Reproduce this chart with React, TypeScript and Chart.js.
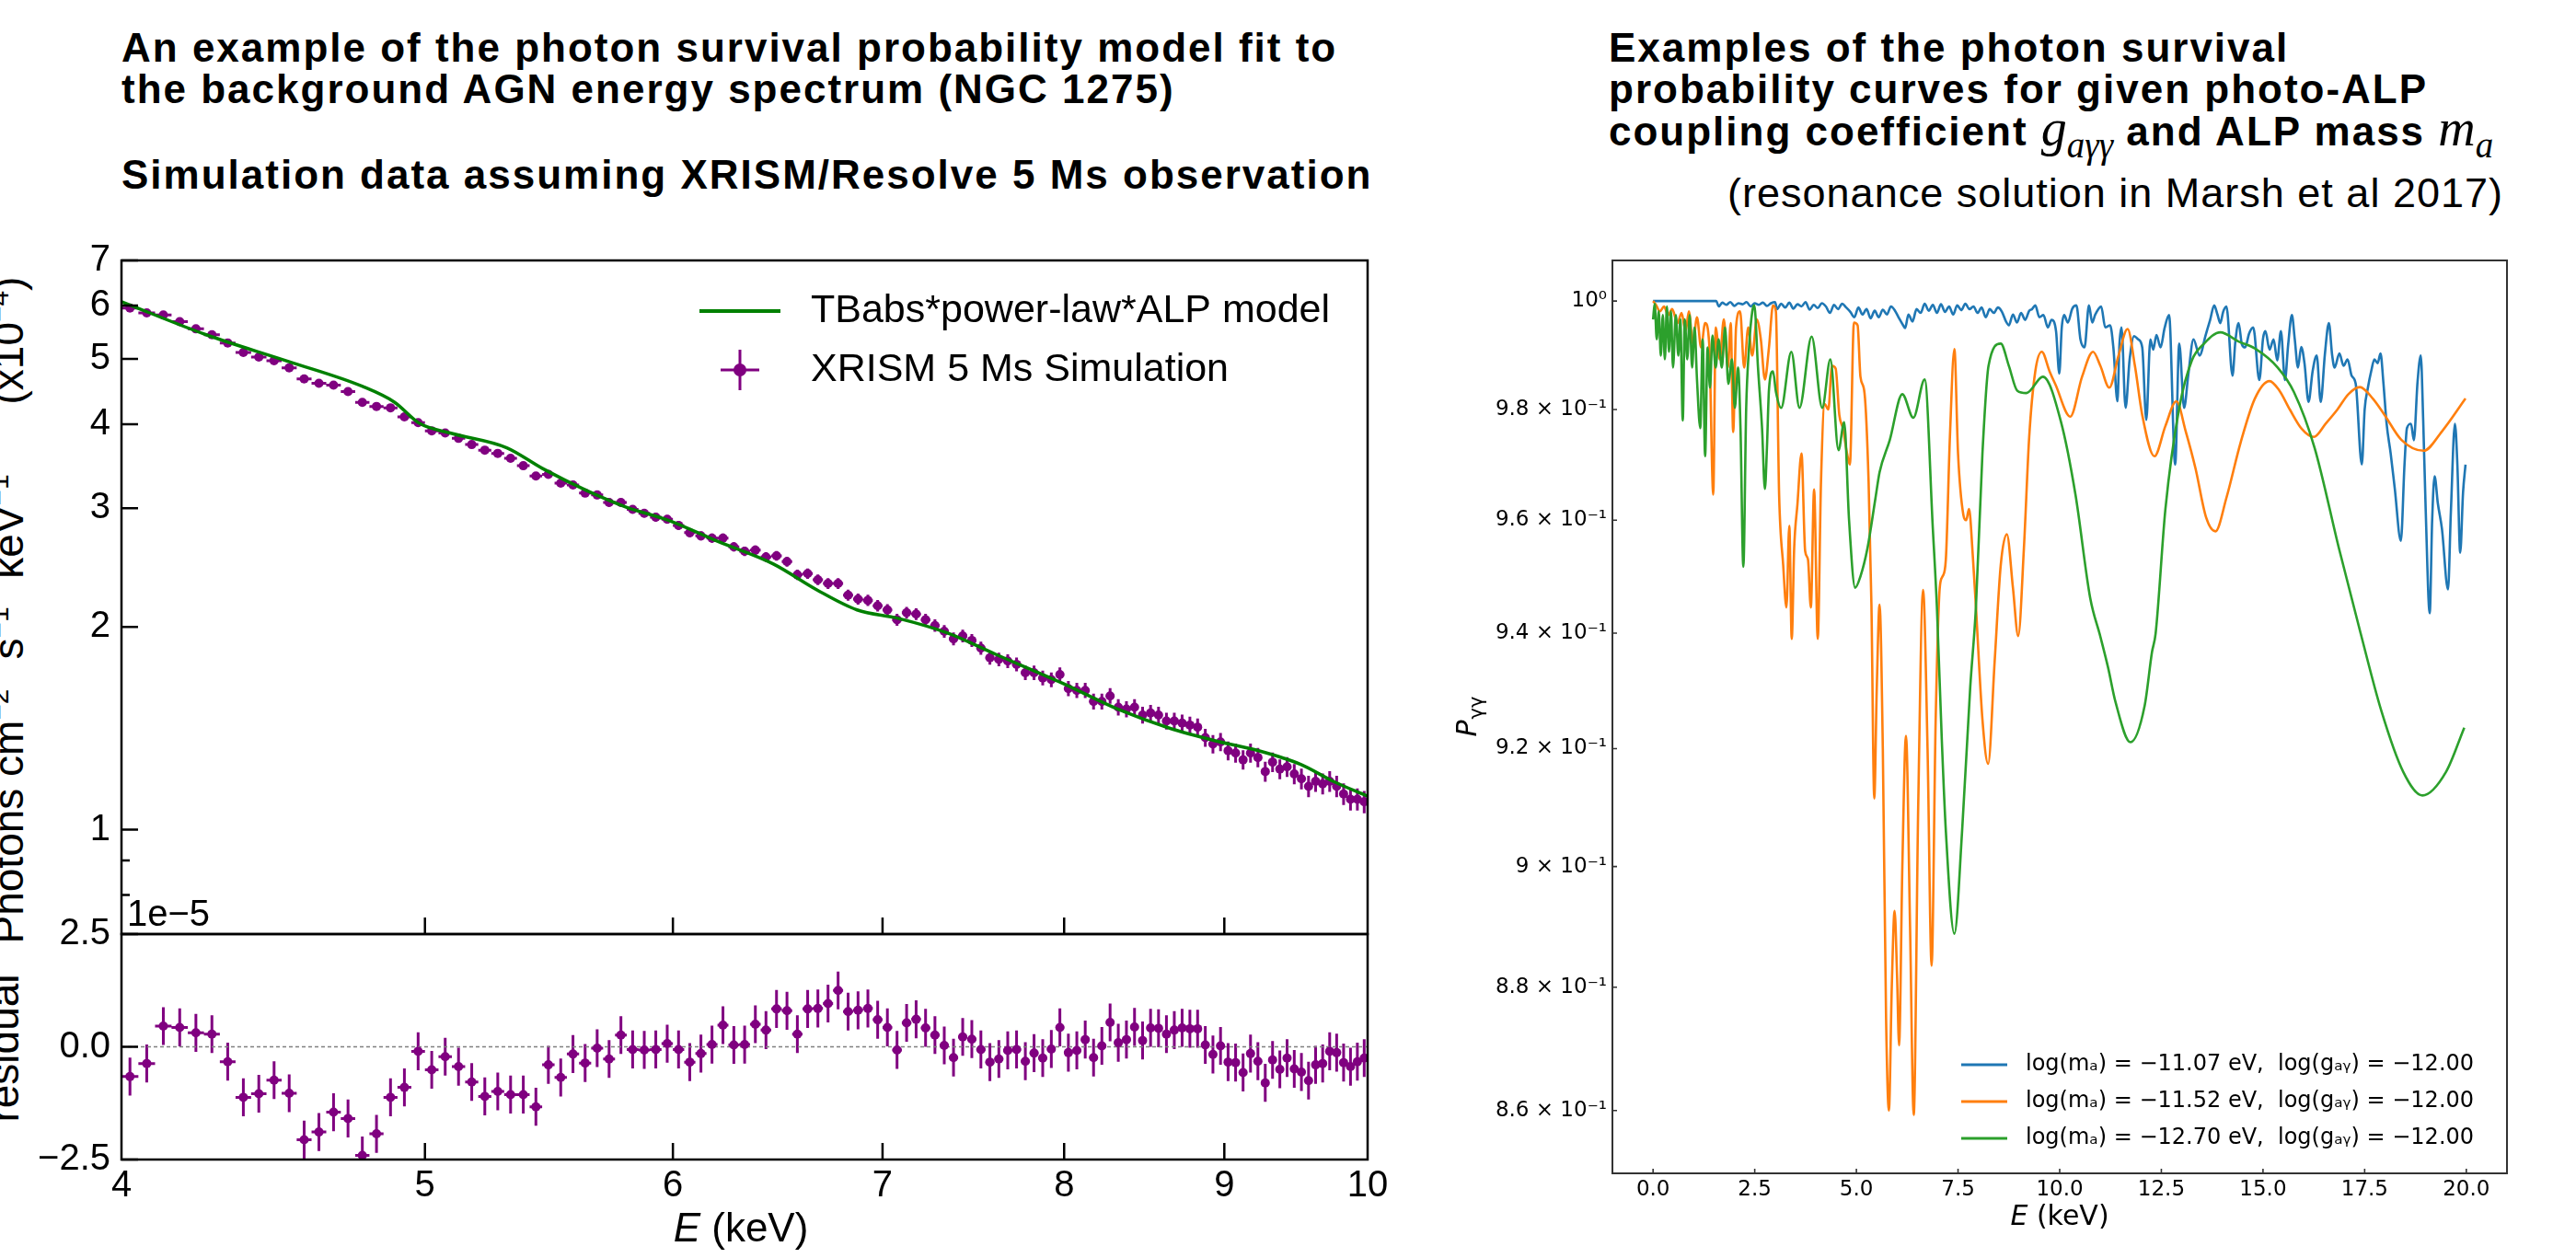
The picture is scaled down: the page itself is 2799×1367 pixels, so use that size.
import React, { useEffect, useRef } from "react";
import { Chart, registerables } from "chart.js";

Chart.register(...registerables);

// ====================== LEFT PANEL DATA ======================
// Bin centres (keV) of the simulated XRISM spectrum
const binCentres = [
  4.025, 4.075, 4.125, 4.175, 4.225, 4.275, 4.325, 4.375, 4.425, 4.475,
  4.525, 4.575, 4.625, 4.675, 4.725, 4.775, 4.825, 4.875, 4.925, 4.975,
  5.025, 5.075, 5.125, 5.175, 5.225, 5.275, 5.325, 5.375, 5.425, 5.475,
  5.525, 5.575, 5.625, 5.675, 5.725, 5.775, 5.825, 5.875, 5.925, 5.975,
  6.025, 6.075, 6.125, 6.175, 6.225, 6.275, 6.325, 6.375, 6.425, 6.475,
  6.525, 6.575, 6.625, 6.675, 6.725, 6.775, 6.825, 6.875, 6.925, 6.975,
  7.025, 7.075, 7.125, 7.175, 7.225, 7.275, 7.325, 7.375, 7.425, 7.475,
  7.525, 7.575, 7.625, 7.675, 7.725, 7.775, 7.825, 7.875, 7.925, 7.975,
  8.025, 8.075, 8.125, 8.175, 8.225, 8.275, 8.325, 8.375, 8.425, 8.475,
  8.525, 8.575, 8.625, 8.675, 8.725, 8.775, 8.825, 8.875, 8.925, 8.975,
  9.025, 9.075, 9.125, 9.175, 9.225, 9.275, 9.325, 9.375, 9.425, 9.475,
  9.525, 9.575, 9.625, 9.675, 9.725, 9.775, 9.825, 9.875, 9.925, 9.975,
];
const binHalfWidth = 0.025;

// Observed flux (x 1e-4 photons cm^-2 s^-1 keV^-1)
const observedFlux = [
  5.95, 5.85, 5.81, 5.68, 5.54, 5.43, 5.28, 5.11, 5.03, 4.97,
  4.85, 4.67, 4.60, 4.57, 4.47, 4.31, 4.25, 4.23, 4.10, 4.02,
  3.91, 3.88, 3.81, 3.73, 3.66, 3.62, 3.56, 3.47, 3.35, 3.37,
  3.27, 3.25, 3.16, 3.14, 3.06, 3.06, 2.99, 2.95, 2.91, 2.89,
  2.83, 2.76, 2.73, 2.71, 2.71, 2.63, 2.59, 2.60, 2.54, 2.55,
  2.50, 2.39, 2.40, 2.35, 2.32, 2.32, 2.23, 2.20, 2.19, 2.15,
  2.12, 2.05, 2.10, 2.09, 2.05, 2.01, 1.97, 1.92, 1.94, 1.91,
  1.86, 1.80, 1.79, 1.78, 1.76, 1.71, 1.71, 1.68, 1.67, 1.70,
  1.62, 1.61, 1.61, 1.55, 1.55, 1.58, 1.52, 1.51, 1.52, 1.48,
  1.49, 1.48, 1.45, 1.45, 1.44, 1.43, 1.42, 1.37, 1.34, 1.35,
  1.31, 1.30, 1.27, 1.30, 1.28, 1.22, 1.26, 1.23, 1.24, 1.21,
  1.19, 1.16, 1.18, 1.17, 1.18, 1.16, 1.13, 1.11, 1.11, 1.10,
];
const fluxError = 0.042;

// Residuals (x 1e-5)
const residuals = [
  -0.66, -0.37, 0.46, 0.43, 0.31, 0.28, -0.33, -1.12, -1.04, -0.74,
  -1.03, -2.06, -1.89, -1.45, -1.59, -2.41, -1.93, -1.12, -0.9, -0.1,
  -0.51, -0.22, -0.44, -0.78, -1.1, -0.99, -1.06, -1.06, -1.33, -0.4,
  -0.68, -0.16, -0.36, -0.03, -0.27, 0.26, -0.06, -0.07, -0.06, 0.07,
  -0.06, -0.34, -0.15, 0.05, 0.48, 0.04, 0.05, 0.5, 0.37, 0.84,
  0.8, 0.28, 0.84, 0.85, 0.96, 1.25, 0.78, 0.81, 0.85, 0.6,
  0.43, -0.07, 0.53, 0.61, 0.42, 0.26, 0.03, -0.24, 0.22, 0.17,
  -0.06, -0.34, -0.27, -0.08, -0.06, -0.32, -0.14, -0.25, -0.05, 0.43,
  -0.13, -0.08, 0.16, -0.24, 0.02, 0.54, 0.09, 0.16, 0.44, 0.14,
  0.42, 0.41, 0.28, 0.37, 0.42, 0.4, 0.4, 0.04, -0.17, 0.02,
  -0.34, -0.35, -0.57, -0.15, -0.32, -0.8, -0.29, -0.5, -0.25, -0.49,
  -0.56, -0.75, -0.4, -0.37, -0.1, -0.13, -0.35, -0.44, -0.33, -0.25,
];
const residualError = 0.42;

// TBabs*power-law*ALP model curve
const modelEnergy = [4.0, 4.257, 4.523, 4.776, 4.89, 4.98, 5.1, 5.31, 5.45, 5.63, 5.8, 5.98, 6.2, 6.46, 6.67, 6.87, 7.08, 7.34, 7.61, 7.99, 8.33, 8.64, 8.96, 9.23, 9.52, 9.75, 10.0];
const modelFlux = [6.08, 5.43, 4.955, 4.55, 4.31, 4.01, 3.875, 3.69, 3.44, 3.19, 3.01, 2.88, 2.68, 2.48, 2.27, 2.12, 2.06, 1.96, 1.82, 1.65, 1.507, 1.416, 1.352, 1.31, 1.25, 1.18, 1.121];

const fluxTickValues = [0.8, 0.9, 1, 2, 3, 4, 5, 6, 7];
const fluxTickLabels = ["", "", "1", "2", "3", "4", "5", "6", "7"];
const energyTickValues = [4, 5, 6, 7, 8, 9, 10];
const energyTickLabels = ["4", "5", "6", "7", "8", "9", "10"];
const residualTickValues = [-2.5, 0, 2.5];
const residualTickLabels = ["\u22122.5", "0.0", "2.5"];
const leftLegendLabels = ["TBabs*power-law*ALP model", "XRISM 5 Ms Simulation"];

// ====================== RIGHT PANEL DATA ======================
const blueCurve: [number, number][] = [
  [0.0, 1.0], [1.55, 1.0], [1.62, 0.999], [1.7, 0.9997], [1.8, 0.9993], [1.9, 0.9998], [2.0, 0.9991], [2.1, 0.9996], [2.2, 0.9994], [2.3, 0.9998],
  [2.4, 0.999], [2.5, 0.9996], [2.6, 0.9993], [2.7, 0.9997], [2.8, 0.9991], [2.9, 0.9996], [3.0, 0.9998], [3.05, 0.9985], [3.15, 0.9995], [3.25, 0.9988],
  [3.35, 0.9997], [3.45, 0.9986], [3.55, 0.9994], [3.65, 0.999], [3.75, 0.9998], [3.85, 0.9984], [3.95, 0.9993], [4.05, 0.9987], [4.15, 0.9996], [4.25, 0.999],
  [4.35, 0.9978], [4.45, 0.9993], [4.55, 0.9985], [4.65, 0.9995], [4.75, 0.9988], [4.85, 0.998], [4.95, 0.997], [5.05, 0.9988], [5.15, 0.9975], [5.25, 0.9985],
  [5.35, 0.9968], [5.45, 0.9982], [5.55, 0.997], [5.65, 0.9984], [5.75, 0.9975], [5.85, 0.999], [5.95, 0.9982], [6.05, 0.9968], [6.15, 0.9955], [6.2, 0.995],
  [6.28, 0.9975], [6.38, 0.9962], [6.48, 0.9985], [6.58, 0.9978], [6.68, 0.9995], [6.78, 0.9982], [6.88, 0.9993], [6.98, 0.9978], [7.08, 0.9994], [7.18, 0.998],
  [7.28, 0.999], [7.38, 0.9975], [7.48, 0.9992], [7.58, 0.9983], [7.68, 0.9995], [7.78, 0.9985], [7.88, 0.999], [7.98, 0.9978], [8.08, 0.9988], [8.18, 0.997],
  [8.28, 0.9985], [8.38, 0.9978], [8.48, 0.9988], [8.58, 0.998], [8.68, 0.9962], [8.75, 0.9955], [8.85, 0.9975], [8.95, 0.996], [9.05, 0.9978], [9.15, 0.9965],
  [9.25, 0.9982], [9.32, 0.9985], [9.4, 0.9992], [9.5, 0.997], [9.6, 0.9974], [9.71, 0.9951], [9.8, 0.9965], [9.91, 0.9944], [9.99, 0.9866], [10.05, 0.995],
  [10.11, 0.9974], [10.2, 0.996], [10.31, 0.9986], [10.41, 0.9992], [10.51, 0.9929], [10.61, 0.9914], [10.72, 0.9992], [10.8, 0.996], [10.87, 0.9974], [10.95, 0.9985],
  [11.02, 0.999], [11.12, 0.9951], [11.24, 0.9955], [11.32, 0.9914], [11.42, 0.9815], [11.47, 0.992], [11.52, 0.9951], [11.62, 0.9803], [11.72, 0.9892], [11.83, 0.9935],
  [11.93, 0.9929], [12.03, 0.9914], [12.13, 0.9781], [12.23, 0.9929], [12.3, 0.991], [12.38, 0.9937], [12.48, 0.9914], [12.58, 0.995], [12.69, 0.9974], [12.84, 0.97],
  [12.94, 0.9921], [13.06, 0.9803], [13.16, 0.9862], [13.29, 0.9929], [13.44, 0.9899], [13.59, 0.9937], [13.7, 0.9965], [13.8, 0.9992], [13.88, 0.9975], [13.95, 0.9959],
  [14.02, 0.998], [14.1, 0.999], [14.25, 0.9862], [14.32, 0.9925], [14.4, 0.9959], [14.48, 0.992], [14.56, 0.9914], [14.66, 0.994], [14.76, 0.9951], [14.91, 0.9854],
  [15.0, 0.993], [15.06, 0.9944], [15.16, 0.991], [15.26, 0.9929], [15.35, 0.989], [15.44, 0.9944], [15.54, 0.9854], [15.62, 0.992], [15.71, 0.9974], [15.78, 0.993],
  [15.86, 0.9877], [15.94, 0.9915], [16.02, 0.9885], [16.12, 0.9814], [16.22, 0.987], [16.32, 0.9899], [16.42, 0.9814], [16.52, 0.99], [16.62, 0.9959], [16.7, 0.99],
  [16.76, 0.9877], [16.88, 0.9903], [16.98, 0.988], [17.08, 0.9892], [17.18, 0.9862], [17.28, 0.9847], [17.43, 0.97], [17.5, 0.98], [17.58, 0.984], [17.66, 0.987],
  [17.74, 0.9892], [17.82, 0.9885], [17.89, 0.9903], [17.96, 0.985], [18.04, 0.9774], [18.14, 0.972], [18.24, 0.9657], [18.39, 0.9563], [18.48, 0.97], [18.54, 0.9766],
  [18.64, 0.9774], [18.71, 0.9744], [18.8, 0.985], [18.88, 0.9899], [18.94, 0.978], [19.0, 0.9621], [19.1, 0.9435], [19.16, 0.96], [19.22, 0.9679], [19.3, 0.963],
  [19.4, 0.9585], [19.55, 0.9477], [19.62, 0.9614], [19.72, 0.9774], [19.78, 0.97], [19.85, 0.9542], [19.92, 0.965], [19.98, 0.97],
];

const orangeCurve: [number, number][] = [
  [0.0, 1.0], [0.07, 0.9993], [0.17, 0.9981], [0.27, 0.999], [0.37, 0.9974], [0.47, 0.9985], [0.6, 0.9959], [0.7, 0.9978], [0.8, 0.9944], [0.88, 0.9981],
  [0.98, 0.9921], [1.08, 0.997], [1.18, 0.9914], [1.28, 0.9959], [1.38, 0.9921], [1.48, 0.9646], [1.54, 0.9951], [1.64, 0.9892], [1.74, 0.9966], [1.84, 0.9877],
  [1.91, 0.9959], [1.97, 0.9759], [2.04, 0.9951], [2.14, 0.9981], [2.24, 0.9877], [2.34, 0.9951], [2.44, 0.9899], [2.55, 0.9966], [2.65, 0.9929], [2.75, 0.9855],
  [2.85, 0.9914], [2.95, 0.9992], [3.02, 0.9981], [3.1, 0.9645], [3.2, 0.952], [3.28, 0.9445], [3.35, 0.959], [3.41, 0.939], [3.47, 0.955], [3.55, 0.9628],
  [3.65, 0.972], [3.74, 0.9545], [3.81, 0.953], [3.88, 0.9445], [3.96, 0.9655], [4.05, 0.939], [4.13, 0.967], [4.22, 0.981], [4.31, 0.98], [4.4, 0.988],
  [4.49, 0.9875], [4.58, 0.979], [4.67, 0.9765], [4.77, 0.972], [4.84, 0.97], [4.94, 0.996], [5.03, 0.9955], [5.1, 0.986], [5.2, 0.983], [5.3, 0.967],
  [5.37, 0.945], [5.44, 0.9115], [5.5, 0.93], [5.57, 0.945], [5.65, 0.92], [5.73, 0.875], [5.8, 0.86], [5.87, 0.88], [5.94, 0.8926], [6.0, 0.882],
  [6.05, 0.8705], [6.13, 0.9], [6.22, 0.9222], [6.32, 0.89], [6.41, 0.8593], [6.52, 0.91], [6.64, 0.9476], [6.75, 0.92], [6.85, 0.8835], [6.95, 0.925],
  [7.05, 0.948], [7.12, 0.95], [7.2, 0.953], [7.3, 0.975], [7.41, 0.9911], [7.5, 0.972], [7.63, 0.961], [7.7, 0.96], [7.77, 0.962], [7.86, 0.954],
  [7.94, 0.9446], [8.1, 0.925], [8.24, 0.9174], [8.4, 0.935], [8.55, 0.952], [8.7, 0.9575], [8.85, 0.948], [8.98, 0.9395], [9.12, 0.955], [9.25, 0.975],
  [9.4, 0.987], [9.56, 0.9906], [9.75, 0.987], [9.9, 0.9845], [10.26, 0.9787], [10.55, 0.986], [10.82, 0.9906], [11.0, 0.988], [11.22, 0.984], [11.45, 0.99],
  [11.67, 0.9948], [11.85, 0.988], [12.03, 0.979], [12.33, 0.9715], [12.6, 0.977], [12.87, 0.9815], [13.1, 0.976], [13.34, 0.9693], [13.6, 0.9605], [13.83, 0.958],
  [14.1, 0.964], [14.45, 0.974], [14.8, 0.982], [15.16, 0.9852], [15.4, 0.9835], [15.66, 0.98], [15.95, 0.9765], [16.25, 0.975], [16.55, 0.9775], [16.83, 0.98],
  [17.1, 0.9828], [17.38, 0.9841], [17.7, 0.982], [17.99, 0.979], [18.4, 0.9745], [18.95, 0.9725], [19.4, 0.976], [19.98, 0.982],
];

const greenCurve: [number, number][] = [
  [0.0, 0.9966], [0.04, 0.9995], [0.09, 0.9929], [0.14, 0.9981], [0.19, 0.9899], [0.24, 0.9974], [0.29, 0.9892], [0.34, 0.999], [0.39, 0.9906], [0.44, 0.9981],
  [0.49, 0.9877], [0.56, 0.9974], [0.62, 0.9899], [0.67, 0.9966], [0.73, 0.978], [0.78, 0.9966], [0.84, 0.9892], [0.9, 0.9974], [0.96, 0.9877], [1.02, 0.9951],
  [1.08, 0.9855], [1.16, 0.9766], [1.22, 0.9929], [1.28, 0.9715], [1.34, 0.9914], [1.4, 0.984], [1.46, 0.9936], [1.54, 0.9877], [1.61, 0.9929], [1.69, 0.9877],
  [1.77, 0.9951], [1.85, 0.9847], [1.94, 0.9892], [2.01, 0.9803], [2.09, 0.9877], [2.15, 0.9766], [2.22, 0.9517], [2.29, 0.9803], [2.36, 0.9914], [2.44, 0.9981],
  [2.49, 0.9992], [2.58, 0.9877], [2.68, 0.9766], [2.75, 0.9656], [2.8, 0.973], [2.85, 0.9836], [2.95, 0.987], [3.02, 0.9833], [3.15, 0.9803], [3.4, 0.9906],
  [3.6, 0.9803], [3.9, 0.9934], [4.16, 0.9803], [4.36, 0.9892], [4.56, 0.9726], [4.7, 0.9777], [4.82, 0.96], [4.97, 0.948], [5.1, 0.95], [5.27, 0.9549],
  [5.47, 0.964], [5.57, 0.9686], [5.82, 0.9744], [6.13, 0.9828], [6.4, 0.9785], [6.68, 0.9855], [6.88, 0.9585], [6.98, 0.9446], [7.1, 0.9216], [7.2, 0.906],
  [7.41, 0.8888], [7.6, 0.906], [7.8, 0.9306], [7.94, 0.9446], [8.1, 0.972], [8.25, 0.988], [8.55, 0.9921], [8.75, 0.988], [8.96, 0.9834], [9.18, 0.983],
  [9.59, 0.986], [10.03, 0.9778], [10.39, 0.9645], [10.75, 0.9462], [11.0, 0.9394], [11.19, 0.934], [11.37, 0.9281], [11.74, 0.9211], [12.09, 0.9274], [12.27, 0.9367],
  [12.36, 0.94], [12.6, 0.962], [12.94, 0.9803], [13.25, 0.989], [13.55, 0.9921], [13.95, 0.9942], [14.4, 0.9925], [14.8, 0.9912], [15.36, 0.9877], [15.76, 0.9832],
  [16.27, 0.973], [16.87, 0.9549], [17.4, 0.94], [17.91, 0.9265], [18.45, 0.916], [18.92, 0.912], [19.5, 0.916], [19.95, 0.9236],
];

const survivalTickValues = [0.86, 0.88, 0.9, 0.92, 0.94, 0.96, 0.98, 1.0];
const survivalTickLabels = [
  "8.6 \u00d7 10\u207b\u00b9", "8.8 \u00d7 10\u207b\u00b9", "9 \u00d7 10\u207b\u00b9", "9.2 \u00d7 10\u207b\u00b9",
  "9.4 \u00d7 10\u207b\u00b9", "9.6 \u00d7 10\u207b\u00b9", "9.8 \u00d7 10\u207b\u00b9", "10\u2070",
];
const rightEnergyTicks = [0, 2.5, 5, 7.5, 10, 12.5, 15, 17.5, 20];
const rightEnergyLabels = ["0.0", "2.5", "5.0", "7.5", "10.0", "12.5", "15.0", "17.5", "20.0"];
const alpLogMass = ["\u221211.07", "\u221211.52", "\u221212.70"];
const alpLogCoupling = ["\u221212.00", "\u221212.00", "\u221212.00"];
const curveColors = ["#1f77b4", "#ff7f0e", "#2ca02c"];

const SANS = "Liberation Sans";
const DJV = "DejaVu Sans";
const PURPLE = "#800080";
const GREEN = "#008000";

// ====================== helpers ======================
function strokeFrame(chart: any, color: string, width: number) {
  const { ctx, chartArea: a } = chart;
  ctx.save();
  ctx.strokeStyle = color;
  ctx.lineWidth = width;
  ctx.strokeRect(a.left, a.top, a.right - a.left, a.bottom - a.top);
  ctx.restore();
}

function inwardTicks(chart: any, axis: string, side: string, values: number[], lens: number[] | number, color: string, width: number) {
  const { ctx, chartArea: a, scales } = chart;
  const s = scales[axis];
  ctx.save();
  ctx.strokeStyle = color;
  ctx.lineWidth = width;
  ctx.beginPath();
  values.forEach((v, i) => {
    const p = s.getPixelForValue(v);
    const L = Array.isArray(lens) ? lens[i] : lens;
    if (side === "left") { ctx.moveTo(a.left, p); ctx.lineTo(a.left + L, p); }
    if (side === "bottom") { ctx.moveTo(p, a.bottom); ctx.lineTo(p, a.bottom - L); }
  });
  ctx.stroke();
  ctx.restore();
}

function drawEnergyTitle(ctx: CanvasRenderingContext2D, cx: number, cy: number, size: number, family: string) {
  ctx.save();
  ctx.fillStyle = "#000";
  ctx.textBaseline = "middle";
  ctx.textAlign = "left";
  const fi = `italic ${size}px "${family}"`;
  const fr = `${size}px "${family}"`;
  ctx.font = fi;
  const w1 = ctx.measureText("E").width;
  ctx.font = fr;
  const w2 = ctx.measureText(" (keV)").width;
  const x0 = cx - (w1 + w2) / 2;
  ctx.font = fi;
  ctx.fillText("E", x0, cy);
  ctx.font = fr;
  ctx.fillText(" (keV)", x0 + w1, cy);
  ctx.restore();
}

const errorBarsPlugin = {
  id: "errorBars",
  beforeDatasetsDraw(chart: any, _args: any, opts: any) {
    if (!opts || !opts.xs) return;
    const { ctx, chartArea: a, scales } = chart;
    const sx = scales.x, sy = scales.y;
    ctx.save();
    ctx.beginPath();
    ctx.rect(a.left, a.top, a.right - a.left, a.bottom - a.top);
    ctx.clip();
    ctx.strokeStyle = opts.color;
    ctx.lineWidth = opts.lineWidth;
    ctx.beginPath();
    for (let i = 0; i < opts.xs.length; i++) {
      const x = sx.getPixelForValue(opts.xs[i]);
      const y = sy.getPixelForValue(opts.ys[i]);
      const x0 = sx.getPixelForValue(opts.xs[i] - opts.xerr);
      const x1 = sx.getPixelForValue(opts.xs[i] + opts.xerr);
      const y0 = sy.getPixelForValue(opts.ys[i] - opts.yerr);
      const y1 = sy.getPixelForValue(opts.ys[i] + opts.yerr);
      ctx.moveTo(x0, y); ctx.lineTo(x1, y);
      ctx.moveTo(x, y0); ctx.lineTo(x, y1);
    }
    ctx.stroke();
    ctx.restore();
  },
};

function fixWidth(w: number) {
  return (s: any) => { s.width = w; s.paddingTop = 0; s.paddingBottom = 0; s.paddingLeft = 0; s.paddingRight = 0; };
}
function fixHeight(h: number) {
  return (s: any) => { s.height = h; s.paddingTop = 0; s.paddingBottom = 0; s.paddingLeft = 0; s.paddingRight = 0; };
}

// ====================== component ======================
export default function App() {
  const specRef = useRef<HTMLCanvasElement>(null);
  const resRef = useRef<HTMLCanvasElement>(null);
  const probRef = useRef<HTMLCanvasElement>(null);

  useEffect(() => {
    const charts: Chart[] = [];

    // ---------- spectrum (top-left) ----------
    const specDecor = {
      id: "specDecor",
      afterDraw(chart: any) {
        const { ctx, chartArea: a } = chart;
        inwardTicks(chart, "y", "left", fluxTickValues, fluxTickLabels.map((l) => (l ? 18 : 9)), "#000", 2.5);
        inwardTicks(chart, "x", "bottom", energyTickValues.slice(1, -1), 18, "#000", 2.5);
        strokeFrame(chart, "#000", 2.5);
        ctx.save();
        // legend
        const lx = a.left + 628;
        const ly1 = a.top + 55;
        const ly2 = a.top + 119;
        ctx.strokeStyle = GREEN;
        ctx.lineWidth = 4;
        ctx.beginPath(); ctx.moveTo(lx, ly1); ctx.lineTo(lx + 88, ly1); ctx.stroke();
        ctx.strokeStyle = PURPLE;
        ctx.lineWidth = 3;
        ctx.beginPath();
        ctx.moveTo(lx + 23, ly2); ctx.lineTo(lx + 65, ly2);
        ctx.moveTo(lx + 44, ly2 - 22); ctx.lineTo(lx + 44, ly2 + 22);
        ctx.stroke();
        ctx.fillStyle = PURPLE;
        ctx.beginPath(); ctx.arc(lx + 44, ly2, 7, 0, Math.PI * 2); ctx.fill();
        ctx.fillStyle = "#000";
        ctx.font = `43px "${SANS}"`;
        ctx.textBaseline = "middle";
        ctx.textAlign = "left";
        ctx.fillText(leftLegendLabels[0], a.left + 749, ly1);
        ctx.fillText(leftLegendLabels[1], a.left + 749, ly2);
        // offset text
        ctx.font = `40px "${SANS}"`;
        ctx.fillText("1e\u22125", a.left + 6, a.bottom - 20);
        ctx.restore();
      },
    };

    if (specRef.current) {
      charts.push(
        new Chart(specRef.current, {
          type: "line",
          data: {
            datasets: [
              {
                label: leftLegendLabels[0],
                data: modelEnergy.map((e, i) => ({ x: e, y: modelFlux[i] })),
                borderColor: GREEN,
                borderWidth: 3.5,
                pointRadius: 0,
                cubicInterpolationMode: "monotone",
                order: 1,
              } as any,
              {
                label: leftLegendLabels[1],
                data: binCentres.map((e, i) => ({ x: e, y: observedFlux[i] })),
                showLine: false,
                pointRadius: 5,
                pointBackgroundColor: PURPLE,
                pointBorderWidth: 0,
                borderColor: PURPLE,
                order: 2,
              } as any,
            ],
          },
          options: {
            responsive: false,
            animation: false,
            devicePixelRatio: 1,
            events: [],
            layout: { padding: { left: 0, top: 33, right: 34, bottom: 5 } },
            plugins: {
              legend: { display: false },
              tooltip: { enabled: false },
              errorBars: { xs: binCentres, ys: observedFlux, xerr: binHalfWidth, yerr: fluxError, color: PURPLE, lineWidth: 3 },
            } as any,
            scales: {
              x: { type: "logarithmic", min: 4, max: 10, display: false },
              y: {
                type: "logarithmic",
                min: 0.7036,
                max: 7,
                grid: { display: false, drawTicks: false },
                border: { display: false },
                afterBuildTicks: (s: any) => { s.ticks = fluxTickValues.map((v) => ({ value: v })); },
                afterFit: fixWidth(132),
                ticks: {
                  autoSkip: false,
                  padding: 12,
                  color: "#000",
                  font: { family: SANS, size: 40 },
                  callback: (_v: any, i: number) => fluxTickLabels[i],
                },
              } as any,
            },
          },
          plugins: [errorBarsPlugin, specDecor],
        })
      );
    }

    // ---------- residual (bottom-left) ----------
    const resDecor = {
      id: "resDecor",
      beforeDatasetsDraw(chart: any) {
        const { ctx, chartArea: a, scales } = chart;
        const y0 = scales.y.getPixelForValue(0);
        ctx.save();
        ctx.strokeStyle = "#808080";
        ctx.lineWidth = 1.5;
        ctx.setLineDash([4, 3]);
        ctx.beginPath(); ctx.moveTo(a.left, y0); ctx.lineTo(a.right, y0); ctx.stroke();
        ctx.restore();
      },
      afterDraw(chart: any) {
        const { ctx, chartArea: a } = chart;
        inwardTicks(chart, "y", "left", residualTickValues, 18, "#000", 2.5);
        inwardTicks(chart, "x", "bottom", energyTickValues.slice(1, -1), 18, "#000", 2.5);
        strokeFrame(chart, "#000", 2.5);
        drawEnergyTitle(ctx, (a.left + a.right) / 2 - 4, a.bottom + 77, 44, SANS);
      },
    };

    if (resRef.current) {
      charts.push(
        new Chart(resRef.current, {
          type: "line",
          data: {
            datasets: [
              {
                label: "residual",
                data: binCentres.map((e, i) => ({ x: e, y: residuals[i] })),
                showLine: false,
                pointRadius: 5,
                pointBackgroundColor: PURPLE,
                pointBorderWidth: 0,
                borderColor: PURPLE,
              } as any,
            ],
          },
          options: {
            responsive: false,
            animation: false,
            devicePixelRatio: 1,
            events: [],
            layout: { padding: { left: 0, top: 55, right: 34, bottom: 0 } },
            plugins: {
              legend: { display: false },
              tooltip: { enabled: false },
              errorBars: { xs: binCentres, ys: residuals, xerr: binHalfWidth, yerr: residualError, color: PURPLE, lineWidth: 3 },
            } as any,
            scales: {
              x: {
                type: "logarithmic",
                min: 4,
                max: 10,
                grid: { display: false, drawTicks: false },
                border: { display: false },
                afterBuildTicks: (s: any) => { s.ticks = energyTickValues.map((v) => ({ value: v })); },
                afterFit: fixHeight(107),
                ticks: {
                  autoSkip: false,
                  maxRotation: 0,
                  minRotation: 0,
                  padding: 5,
                  color: "#000",
                  font: { family: SANS, size: 40 },
                  callback: (_v: any, i: number) => energyTickLabels[i],
                },
              } as any,
              y: {
                type: "linear",
                min: -2.5,
                max: 2.5,
                grid: { display: false, drawTicks: false },
                border: { display: false },
                afterBuildTicks: (s: any) => { s.ticks = residualTickValues.map((v) => ({ value: v })); },
                afterFit: fixWidth(132),
                ticks: {
                  autoSkip: false,
                  padding: 12,
                  color: "#000",
                  font: { family: SANS, size: 40 },
                  callback: (_v: any, i: number) => residualTickLabels[i],
                },
              } as any,
            },
          },
          plugins: [errorBarsPlugin, resDecor],
        })
      );
    }

    // ---------- survival probability (right) ----------
    const probDecor = {
      id: "probDecor",
      afterDraw(chart: any) {
        const { ctx, chartArea: a } = chart;
        inwardTicks(chart, "y", "left", survivalTickValues, 5, "#333", 1.6);
        inwardTicks(chart, "x", "bottom", rightEnergyTicks, 5, "#333", 1.6);
        strokeFrame(chart, "#333", 2);
        ctx.save();
        // legend
        const lx = a.left + 379;
        const rows = [a.bottom - 118, a.bottom - 78, a.bottom - 38];
        rows.forEach((ry, i) => {
          ctx.strokeStyle = curveColors[i];
          ctx.lineWidth = 2.8;
          ctx.beginPath(); ctx.moveTo(lx, ry); ctx.lineTo(lx + 50, ry); ctx.stroke();
          ctx.fillStyle = "#000";
          ctx.font = `24px "${DJV}"`;
          ctx.textBaseline = "middle";
          ctx.textAlign = "left";
          ctx.fillText(
            `log(m\u2090) = ${alpLogMass[i]} eV,  log(g\u2090\u1d67) = ${alpLogCoupling[i]}`,
            lx + 70,
            ry
          );
        });
        // y title P_yy
        ctx.translate(a.left - 159, (a.top + a.bottom) / 2);
        ctx.rotate(-Math.PI / 2);
        ctx.fillStyle = "#000";
        ctx.textBaseline = "alphabetic";
        ctx.textAlign = "left";
        ctx.font = `italic 30px "${DJV}"`;
        const wP = ctx.measureText("P").width;
        ctx.font = `21px "${DJV}"`;
        const wS = ctx.measureText("\u03b3\u03b3").width;
        const x0 = -(wP + wS) / 2;
        ctx.font = `italic 30px "${DJV}"`;
        ctx.fillText("P", x0, 11);
        ctx.font = `21px "${DJV}"`;
        ctx.fillText("\u03b3\u03b3", x0 + wP + 1, 18);
        ctx.restore();
        drawEnergyTitle(ctx, (a.left + a.right) / 2, a.bottom + 48, 30, DJV);
      },
    };

    if (probRef.current) {
      const curves = [blueCurve, orangeCurve, greenCurve];
      charts.push(
        new Chart(probRef.current, {
          type: "line",
          data: {
            datasets: curves.map((c, i) => ({
              label: `log(m_a) = ${alpLogMass[i]} eV`,
              data: c.map(([e, p]) => ({ x: e, y: p })),
              borderColor: curveColors[i],
              borderWidth: 2.6,
              pointRadius: 0,
              cubicInterpolationMode: "monotone",
              order: 3 - i,
            })) as any,
          },
          options: {
            responsive: false,
            animation: false,
            devicePixelRatio: 1,
            events: [],
            layout: { padding: { left: 0, top: 33, right: 75, bottom: 0 } },
            plugins: { legend: { display: false }, tooltip: { enabled: false } },
            scales: {
              x: {
                type: "linear",
                min: -1,
                max: 21,
                grid: { display: false, drawTicks: false },
                border: { display: false },
                afterBuildTicks: (s: any) => { s.ticks = rightEnergyTicks.map((v) => ({ value: v })); },
                afterFit: fixHeight(92),
                ticks: {
                  autoSkip: false,
                  maxRotation: 0,
                  minRotation: 0,
                  padding: 4,
                  color: "#000",
                  font: { family: DJV, size: 23 },
                  callback: (_v: any, i: number) => rightEnergyLabels[i],
                },
              } as any,
              y: {
                type: "logarithmic",
                min: 0.8529,
                max: 1.0076,
                grid: { display: false, drawTicks: false },
                border: { display: false },
                afterBuildTicks: (s: any) => { s.ticks = survivalTickValues.map((v) => ({ value: v })); },
                afterFit: fixWidth(192),
                ticks: {
                  autoSkip: false,
                  padding: 6,
                  color: "#000",
                  font: { family: DJV, size: 23 },
                  callback: (_v: any, i: number) => survivalTickLabels[i],
                },
              } as any,
            },
          },
          plugins: [probDecor],
        })
      );
    }

    return () => charts.forEach((c) => c.destroy());
  }, []);

  const titleFont = `"${SANS}", Arial, Helvetica, sans-serif`;
  const boldLine = (extra: React.CSSProperties): React.CSSProperties => ({
    position: "absolute",
    font: `bold 44px ${titleFont}`,
    lineHeight: "44px",
    letterSpacing: "2px",
    whiteSpace: "nowrap",
    color: "#000",
    ...extra,
  });
  const mathMain: React.CSSProperties = {
    fontFamily: '"Liberation Serif", "DejaVu Serif", serif',
    fontStyle: "italic",
    fontWeight: "normal",
    fontSize: 56,
    letterSpacing: 0,
    lineHeight: "0px",
  };
  const mathSub: React.CSSProperties = {
    fontSize: 39,
    position: "relative",
    top: 13,
    lineHeight: "0px",
  };
  const yLabelPart = (text: React.ReactNode, cy: number) => (
    <div style={{ position: "absolute", left: 4, top: cy, width: 0, height: 0 }}>
      <span
        style={{
          position: "absolute",
          left: 0,
          top: 0,
          font: `46px ${titleFont}`,
          lineHeight: "46px",
          whiteSpace: "nowrap",
          color: "#000",
          transform: "translate(-50%, -50%) rotate(-90deg)",
        }}
      >
        {text}
      </span>
    </div>
  );

  return (
    <div
      style={{
        position: "fixed",
        left: 0,
        top: 0,
        width: 2799,
        height: 1367,
        background: "#fff",
        overflow: "hidden",
      }}
    >
      {/* left titles */}
      <div style={boldLine({ left: 132, top: 30 })}>An example of the photon survival probability model fit to</div>
      <div style={boldLine({ left: 132, top: 75 })}>the background AGN energy spectrum (NGC 1275)</div>
      <div style={boldLine({ left: 132, top: 168 })}>Simulation data assuming XRISM/Resolve 5 Ms observation</div>

      {/* right titles */}
      <div style={boldLine({ left: 1748, top: 30 })}>Examples of the photon survival</div>
      <div style={boldLine({ left: 1748, top: 75 })}>probability curves for given photo-ALP</div>
      <div style={boldLine({ left: 1748, top: 121 })}>
        coupling coefficient{" "}
        <span style={mathMain}>
          g<span style={mathSub}>a&#947;&#947;</span>
        </span>{" "}
        and ALP mass{" "}
        <span style={mathMain}>
          m<span style={mathSub}>a</span>
        </span>
      </div>
      <div
        style={{
          position: "absolute",
          right: 79,
          top: 187,
          font: `45px ${titleFont}`,
          lineHeight: "45px",
          letterSpacing: "1px",
          whiteSpace: "nowrap",
          textAlign: "right",
          color: "#000",
        }}
      >
        (resonance solution in Marsh et al 2017)
      </div>

      {/* left y-axis label (partly outside the figure, as in the original) */}
      {yLabelPart("residual", 1139)}
      {yLabelPart(<>Photons cm<sup style={{ fontSize: "0.65em" }}>&#8722;2</sup></>, 887)}
      {yLabelPart(<>s<sup style={{ fontSize: "0.65em" }}>&#8722;1</sup></>, 688)}
      {yLabelPart(<>keV<sup style={{ fontSize: "0.65em" }}>&#8722;1</sup></>, 572)}
      {yLabelPart(<>(x10<sup style={{ fontSize: "0.65em" }}>&#8722;4</sup>)</>, 370)}

      <canvas ref={specRef} width={1520} height={770} style={{ position: "absolute", left: 0, top: 250, width: 1520, height: 770 }} />
      <canvas ref={resRef} width={1520} height={407} style={{ position: "absolute", left: 0, top: 960, width: 1520, height: 407 }} />
      <canvas ref={probRef} width={1239} height={1117} style={{ position: "absolute", left: 1560, top: 250, width: 1239, height: 1117 }} />
    </div>
  );
}
